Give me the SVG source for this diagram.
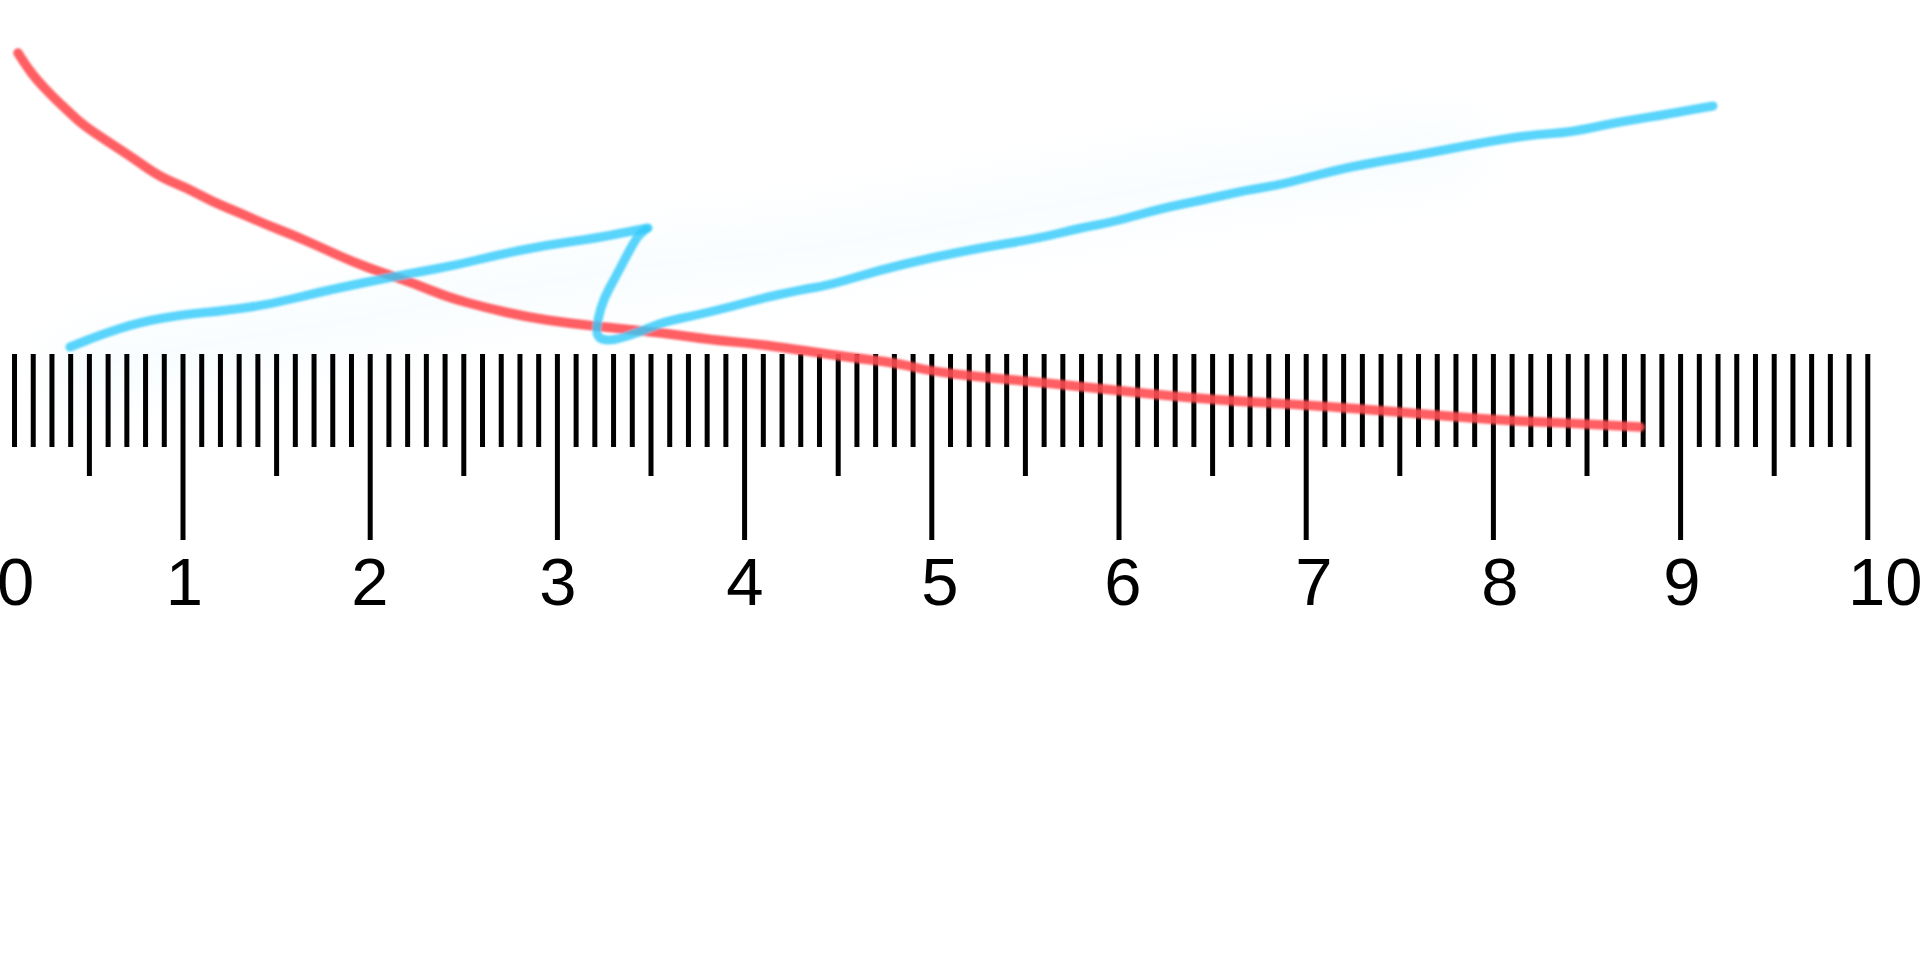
<svg xmlns="http://www.w3.org/2000/svg" width="1920" height="960" viewBox="0 0 1920 960">
  <style>
    .minor { stroke: #000; stroke-width: 5; fill: none; }
    .lbl { font-family: "Liberation Sans", Arial, sans-serif; font-size: 67px; fill: #000; text-anchor: middle; }
    .ink { fill: none; stroke-linecap: round; stroke-linejoin: round; }
    .red { stroke: #ff4d52; stroke-opacity: 0.9; stroke-width: 9.5; }
    .blue { stroke: #2ec9fa; stroke-opacity: 0.8; stroke-width: 9; }
  </style>
  <defs>
    <filter id="soft" x="-5%" y="-20%" width="110%" height="140%">
      <feGaussianBlur stdDeviation="0.8"/>
    </filter>
    <filter id="glow" x="-10%" y="-50%" width="120%" height="200%">
      <feGaussianBlur stdDeviation="24"/>
    </filter>
  </defs>
  <rect width="1920" height="960" fill="#ffffff"/>

  <g id="glow-band" filter="url(#glow)" opacity="0.15">
    <path d="M80 370 L200 345 L350 320 L500 290 L650 265 L800 250 L1000 215 L1200 180 L1450 150" fill="none" stroke="#d4effb" stroke-width="70" stroke-linecap="round"/>
  </g>

  <g id="ruler">
    <path id="ticks-minor" class="minor" d="M14.52 354v93M33.24 354v93M51.96 354v93M70.68 354v93M108.12 354v93M126.84 354v93M145.56 354v93M164.28 354v93M201.72 354v93M220.44 354v93M239.16 354v93M257.88 354v93M295.32 354v93M314.04 354v93M332.76 354v93M351.48 354v93M388.92 354v93M407.64 354v93M426.36 354v93M445.08 354v93M482.52 354v93M501.24 354v93M519.96 354v93M538.68 354v93M576.12 354v93M594.84 354v93M613.56 354v93M632.28 354v93M669.72 354v93M688.44 354v93M707.16 354v93M725.88 354v93M763.32 354v93M782.04 354v93M800.76 354v93M819.48 354v93M856.92 354v93M875.64 354v93M894.36 354v93M913.08 354v93M950.52 354v93M969.24 354v93M987.96 354v93M1006.68 354v93M1044.12 354v93M1062.84 354v93M1081.56 354v93M1100.28 354v93M1137.72 354v93M1156.44 354v93M1175.16 354v93M1193.88 354v93M1231.32 354v93M1250.04 354v93M1268.76 354v93M1287.48 354v93M1324.92 354v93M1343.64 354v93M1362.36 354v93M1381.08 354v93M1418.52 354v93M1437.24 354v93M1455.96 354v93M1474.68 354v93M1512.12 354v93M1530.84 354v93M1549.56 354v93M1568.28 354v93M1605.72 354v93M1624.44 354v93M1643.16 354v93M1661.88 354v93M1699.32 354v93M1718.04 354v93M1736.76 354v93M1755.48 354v93M1792.92 354v93M1811.64 354v93M1830.36 354v93M1849.08 354v93"/>
    <path id="ticks-half" class="minor" d="M89.4 354v122M276.6 354v122M463.8 354v122M651 354v122M838.2 354v122M1025.4 354v122M1212.6 354v122M1399.8 354v122M1587 354v122M1774.2 354v122"/>
    <path id="ticks-major" class="minor" d="M183 354v186M370.2 354v186M557.4 354v186M744.6 354v186M931.8 354v186M1119 354v186M1306.2 354v186M1493.4 354v186M1680.6 354v186M1867.8 354v186"/>
    <g id="labels">
      <text class="lbl" x="-3" y="605" style="text-anchor:start">0</text>
      <text class="lbl" x="184.5" y="605">1</text>
      <text class="lbl" x="370" y="605">2</text>
      <text class="lbl" x="558" y="605">3</text>
      <text class="lbl" x="745" y="605">4</text>
      <text class="lbl" x="940" y="605">5</text>
      <text class="lbl" x="1123" y="605">6</text>
      <text class="lbl" x="1314" y="605">7</text>
      <text class="lbl" x="1500" y="605">8</text>
      <text class="lbl" x="1682" y="605">9</text>
      <text class="lbl" x="1848" y="605" style="text-anchor:start">10</text>
    </g>
  </g>

  <g id="strokes" filter="url(#soft)">
    <path id="red-stroke" class="ink red" d="M18,53 L22.5,60 Q27,67 32,73.5 Q37,80 45,88.5 Q53,97 60.5,104 Q68,111 75.5,118 Q83,125 96.5,134 Q110,143 121.5,150.5 Q133,158 146.5,167.5 Q160,177 173.5,182.5 Q187,188 200,195 Q213,202 226.5,207.5 Q240,213 253.5,219 Q267,225 280,230 Q293,235 306.5,241 Q320,247 336.5,254.5 Q353,262 368,267.5 Q383,273 398,278 Q413,283 430,290 Q447,297 467,302.5 Q487,308 507,312.5 Q527,317 547,320 Q567,323 590,325.5 Q613,328 638,330.5 Q663,333 688,336.5 Q713,340 730,341.5 Q747,343 763.5,345 Q780,347 813.5,352 Q847,357 872,360 Q897,363 913.5,367 Q930,371 955,374 Q980,377 1013.5,380 Q1047,383 1080,386.5 Q1113,390 1146.5,393.5 Q1180,397 1215,399.5 Q1250,402 1278.5,403.5 Q1307,405 1353.5,408.5 Q1400,412 1446.5,416 Q1493,420 1530,421.5 Q1567,423 1603.5,425 L1640,427"/>
    <path id="blue-stroke-a" class="ink blue" d="M70,347 L85,341 Q100,335 120,328.5 Q140,322 163.5,318 Q187,314 200,313 Q213,312 240,308.5 Q267,305 293.5,298.5 Q320,292 343.5,287 Q367,282 390,277.5 Q413,273 435,269 Q457,265 477,260 Q497,255 522,250 Q547,245 572,241.5 Q597,238 617,234 Q637,230 642.5,229 L648,228"/>
    <path id="blue-stroke-b" class="ink blue" d="M646,229 L641.5,233 Q637,237 632,246 Q627,255 621,266.5 Q615,278 609.5,288 Q604,298 601,308 Q598,318 597,326 Q596,334 599,337 Q602,340 608.5,340 Q615,340 627.5,336 Q640,332 651.5,327 Q663,322 680,318.5 Q697,315 713.5,311 Q730,307 746.5,302.5 Q763,298 781.5,294 Q800,290 815,287.5 Q830,285 855,277.5 Q880,270 905,264 Q930,258 955,253 Q980,248 1010,243 Q1040,238 1060,233 Q1080,228 1096.5,225 Q1113,222 1138,215 Q1163,208 1183,204 Q1203,200 1225,195 Q1247,190 1263.5,187.5 Q1280,185 1313.5,176 Q1347,167 1380,161.5 Q1413,156 1446.5,149.5 Q1480,143 1505,139 Q1530,135 1551.5,133.5 Q1573,132 1593,127.5 Q1613,123 1638,119 Q1663,115 1676.5,112.5 Q1690,110 1701.5,108 L1713,106"/>
  </g>
</svg>
